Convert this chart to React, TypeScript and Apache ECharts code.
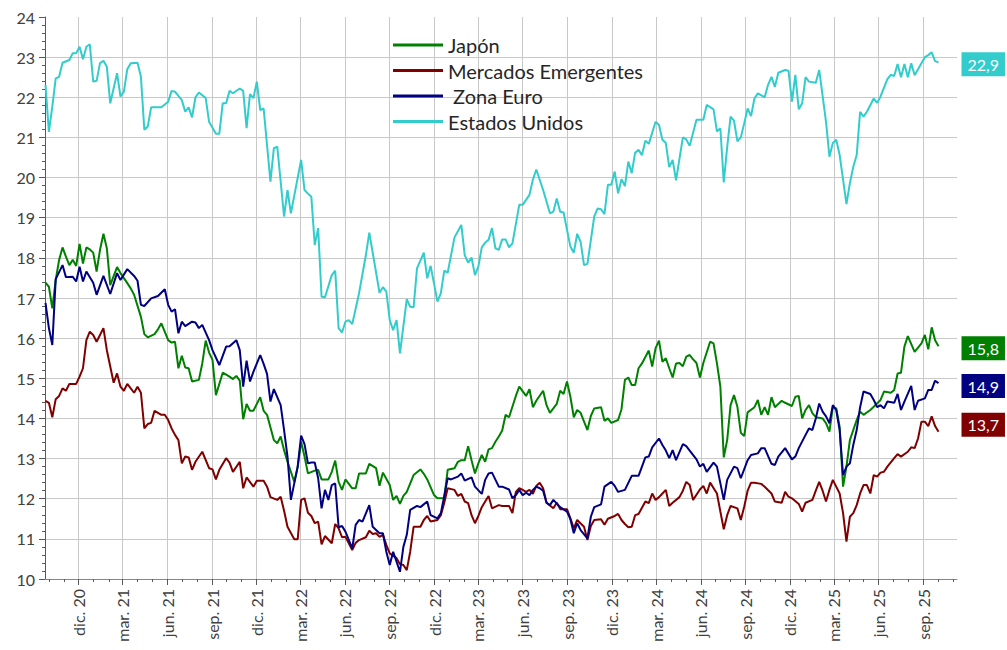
import React, { useEffect, useRef } from 'react';
import * as echarts from 'echarts';

// ---------- data ----------
const seriesNames = ['Japón', 'Mercados Emergentes', ' Zona Euro', 'Estados Unidos'];
const seriesColors = ['#008000', '#800000', '#000080', '#33CCCC'];

const firstWeekDate = '2020-09-24'; // week 0 of the weekly series
const axisMinDate = '2020-09-23';
const axisMaxDate = '2025-11-09';

const tickDates = [
  '2020-12-01', '2021-03-01', '2021-06-01', '2021-09-01', '2021-12-01',
  '2022-03-01', '2022-06-01', '2022-09-01', '2022-12-01', '2023-03-01',
  '2023-06-01', '2023-09-01', '2023-12-01', '2024-03-01', '2024-06-01',
  '2024-09-01', '2024-12-01', '2025-03-01', '2025-06-01', '2025-09-01',
];
const tickLabels = [
  'dic. 20', 'mar. 21', 'jun. 21', 'sep. 21', 'dic. 21',
  'mar. 22', 'jun. 22', 'sep. 22', 'dic. 22', 'mar. 23',
  'jun. 23', 'sep. 23', 'dic. 23', 'mar. 24', 'jun. 24',
  'sep. 24', 'dic. 24', 'mar. 25', 'jun. 25', 'sep. 25',
];

// [week number since firstWeekDate, value]
const jpData = [
  [0,17.38],[1,17.28],[2,16.74],[3,17.45],[4,17.95],[5,18.26],[6,18.03],[7,17.82],[8,17.95],[9,17.8],[10,18.35],[11,17.86],[12,18.26],[13,18.21],[14,18.13],[15,17.66],[16,18.2],[17,18.6],[18,18.24],[19,17.32],[21,17.77],[22,17.62],[24,17.37],[25,17.24],[26,17.08],[28,16.53],[29,16.1],[30,16.02],[32,16.1],[33,16.22],[34,16.37],[36,15.95],[37,15.89],[38,15.91],[39,15.25],[40,15.56],[41,15.27],[42,15.25],[43,14.92],[45,14.96],[46,15.37],[47,15.94],[48,15.64],[49,15.46],[50,14.58],[52,15.14],[54,15.04],[55,14.98],[56,15.06],[57,14.94],[58,13.98],[59,14.36],[60,14.19],[61,14.19],[63,14.53],[64,14.19],[65,14.09],[67,13.46],[68,13.38],[69,13.55],[70,13.21],[71,12.92],[73,12.42],[74,12.8],[75,13.42],[76,13.05],[77,12.63],[79,12.7],[80,12.72],[81,12.48],[83,12.48],[84,12.67],[85,12.95],[86,12.42],[87,12.22],[88,12.48],[90,12.26],[91,12.26],[92,12.63],[94,12.63],[95,12.87],[97,12.76],[98,12.32],[99,12.65],[101,12.34],[102,11.97],[103,12.07],[104,11.87],[105,12.07],[106,12.17],[108,12.59],[110,12.73],[111,12.62],[112,12.48],[114,12.09],[115,12.01],[117,12.02],[118,12.72],[120,12.76],[121,12.92],[122,12.96],[123,12.96],[124,13.31],[125,12.96],[126,12.63],[127,12.88],[128,13.09],[129,12.92],[130,13.23],[131,13.26],[132,13.42],[133,13.55],[134,13.7],[135,14.09],[136,14.03],[138,14.56],[139,14.79],[141,14.56],[142,14.73],[143,14.28],[144,14.44],[146,14.69],[147,14.33],[148,14.14],[150,14.36],[151,14.69],[152,14.61],[153,14.92],[154,14.54],[155,14.03],[156,14.21],[157,14.14],[159,13.71],[160,14.06],[161,14.25],[163,14.28],[164,13.94],[165,14.0],[166,13.89],[168,13.96],[169,14.23],[170,14.96],[171,15.02],[172,14.83],[173,14.83],[174,15.25],[175,15.37],[177,15.69],[178,15.29],[179,15.75],[180,15.94],[181,15.41],[182,15.5],[183,15.25],[184,15.02],[185,15.37],[186,15.38],[187,15.3],[188,15.54],[189,15.58],[190,15.47],[191,15.38],[192,15.02],[193,15.38],[195,15.91],[196,15.87],[197,15.37],[198,14.79],[199,13.03],[200,13.46],[201,14.33],[202,14.58],[203,14.29],[204,13.64],[205,13.56],[206,14.15],[208,14.28],[209,14.46],[210,14.09],[211,14.28],[212,14.09],[213,14.53],[214,14.28],[216,14.44],[217,14.39],[219,14.31],[220,14.54],[221,14.56],[222,14.0],[223,14.21],[224,14.33],[225,14.13],[226,14.03],[228,14.0],[229,13.88],[230,13.67],[231,14.28],[232,14.25],[233,13.79],[234,12.3],[235,12.8],[236,13.46],[238,13.96],[239,14.17],[240,14.09],[242,14.21],[243,14.29],[245,14.46],[246,14.67],[248,14.64],[249,14.71],[250,15.12],[251,15.14],[252,15.79],[253,16.05],[255,15.66],[257,15.87],[258,16.08],[259,15.72],[260,16.27],[261,15.95],[262,15.8],
];

const emData = [
  [0,14.44],[1,14.39],[2,14.03],[3,14.48],[4,14.56],[5,14.75],[6,14.69],[7,14.86],[9,14.86],[10,15.04],[11,15.25],[12,15.95],[13,16.16],[14,16.08],[15,15.91],[17,16.25],[18,15.7],[20,14.89],[21,15.12],[22,14.79],[23,14.69],[24,14.86],[26,14.64],[27,14.79],[28,14.64],[29,13.75],[30,13.86],[31,13.89],[32,14.19],[34,14.09],[35,14.09],[36,13.96],[37,13.75],[38,13.59],[39,13.46],[40,12.88],[41,13.05],[42,13.03],[43,12.72],[44,12.92],[46,13.17],[48,12.76],[49,12.73],[50,12.48],[51,12.72],[53,13.01],[54,12.9],[55,12.67],[57,12.92],[58,12.26],[59,12.53],[61,12.3],[62,12.45],[64,12.45],[65,12.3],[66,12.04],[68,11.97],[69,12.05],[70,11.7],[71,11.3],[73,10.99],[74,10.99],[75,11.97],[76,12.01],[77,11.65],[78,11.57],[79,11.39],[80,11.43],[81,10.86],[82,11.07],[84,10.89],[85,11.37],[86,11.26],[87,11.04],[88,11.05],[90,10.72],[91,10.9],[92,10.97],[94,11.04],[95,11.2],[96,11.12],[97,11.14],[98,11.05],[99,11.1],[100,10.85],[101,10.64],[103,10.52],[104,10.37],[105,10.35],[106,10.22],[107,10.68],[108,11.3],[110,11.3],[111,11.47],[112,11.57],[113,11.43],[115,11.47],[116,11.59],[117,11.9],[118,12.26],[120,12.22],[121,12.07],[122,12.12],[123,11.93],[124,11.89],[125,11.59],[126,11.39],[127,11.57],[128,11.79],[129,11.93],[130,12.07],[131,11.76],[133,11.84],[134,11.82],[136,11.82],[137,11.64],[138,12.17],[139,12.26],[140,12.22],[141,12.17],[142,12.22],[143,12.12],[144,12.32],[145,12.4],[146,12.26],[147,11.9],[149,11.76],[150,11.9],[151,11.74],[153,11.74],[154,11.51],[155,11.26],[156,11.47],[158,11.3],[159,10.97],[160,11.32],[161,11.47],[163,11.49],[164,11.35],[165,11.5],[167,11.57],[168,11.62],[169,11.47],[170,11.37],[171,11.29],[172,11.3],[173,11.59],[174,11.62],[176,11.93],[177,11.89],[178,12.13],[179,11.97],[180,12.04],[181,12.13],[182,12.22],[183,11.82],[184,11.9],[186,12.04],[187,12.2],[188,12.42],[189,12.34],[190,11.97],[192,12.23],[193,12.32],[194,12.13],[195,12.4],[197,12.13],[198,11.68],[199,11.24],[200,11.59],[201,11.82],[203,11.76],[204,11.47],[205,11.8],[206,12.2],[207,12.4],[208,12.4],[210,12.37],[211,12.3],[213,12.13],[214,11.93],[216,11.9],[217,12.17],[218,12.05],[219,12.01],[221,11.87],[222,11.68],[223,11.9],[225,11.97],[226,12.2],[227,12.42],[228,12.2],[229,11.93],[230,12.22],[231,12.47],[233,12.13],[234,11.64],[235,10.93],[236,11.55],[237,11.64],[238,11.84],[239,12.13],[240,12.34],[241,12.34],[242,12.13],[243,12.59],[244,12.55],[245,12.65],[246,12.67],[247,12.8],[249,13.01],[250,13.11],[251,13.05],[253,13.17],[254,13.28],[255,13.26],[256,13.5],[257,13.92],[258,13.92],[259,13.81],[260,14.05],[261,13.81],[262,13.67],
];

const euData = [
  [0,16.88],[1,16.25],[2,15.83],[3,17.47],[5,17.82],[6,17.52],[8,17.53],[9,17.41],[10,17.78],[11,17.41],[12,17.66],[14,17.38],[15,17.08],[17,17.55],[19,17.1],[21,17.62],[22,17.45],[24,17.72],[26,17.55],[27,17.43],[28,16.83],[29,16.8],[31,16.99],[33,17.05],[35,17.22],[36,16.83],[37,16.66],[38,16.72],[39,16.12],[40,16.41],[41,16.3],[43,16.41],[44,16.39],[45,16.25],[46,16.33],[48,15.95],[49,15.7],[51,15.33],[53,15.79],[54,15.8],[56,15.95],[57,15.7],[58,14.79],[59,15.44],[60,14.92],[61,15.16],[63,15.58],[64,15.36],[65,15.11],[66,14.42],[67,14.73],[69,14.33],[70,13.71],[71,13.05],[72,11.97],[74,12.8],[75,13.57],[76,13.36],[77,12.88],[78,12.9],[79,12.9],[80,12.51],[81,11.76],[82,12.22],[83,11.97],[84,12.34],[85,12.38],[86,11.29],[87,11.32],[88,11.18],[90,10.76],[91,11.35],[92,11.47],[93,11.43],[95,11.84],[96,11.3],[98,11.14],[99,11.14],[100,10.68],[101,10.35],[102,10.68],[104,10.18],[105,10.8],[106,11.1],[107,11.72],[109,11.82],[110,11.79],[112,11.93],[113,11.59],[115,11.51],[116,11.64],[118,12.51],[119,12.48],[121,12.55],[122,12.63],[123,12.45],[125,12.53],[126,12.3],[128,12.12],[129,12.47],[130,12.63],[131,12.65],[133,12.3],[134,12.3],[136,12.23],[137,12.01],[138,12.09],[139,12.22],[140,12.09],[141,12.15],[142,12.09],[143,12.22],[144,12.3],[145,12.26],[146,12.2],[147,11.9],[148,11.84],[149,11.97],[151,11.79],[153,11.68],[154,11.49],[155,11.14],[156,11.39],[157,11.22],[159,11.01],[160,11.55],[161,11.79],[163,11.86],[164,12.3],[166,12.42],[167,12.32],[168,12.17],[170,12.22],[172,12.57],[174,12.57],[176,13.03],[177,13.05],[178,13.28],[180,13.5],[181,13.34],[182,13.2],[183,13.01],[184,13.21],[185,12.96],[187,13.36],[188,13.31],[189,13.2],[191,12.98],[192,12.8],[193,12.87],[194,12.67],[196,12.9],[197,12.8],[199,11.97],[200,12.47],[202,12.8],[203,12.76],[204,12.51],[206,12.96],[207,13.09],[209,13.13],[210,13.26],[211,13.26],[213,12.87],[214,12.84],[215,13.05],[217,13.26],[219,12.98],[220,13.05],[221,13.26],[223,13.59],[224,13.75],[225,13.71],[226,14.0],[227,14.37],[228,14.17],[229,14.05],[230,13.88],[231,14.33],[232,14.21],[233,13.71],[234,12.59],[235,12.8],[236,12.88],[237,13.34],[238,13.71],[239,14.28],[240,14.67],[242,14.61],[243,14.46],[244,14.28],[245,14.33],[246,14.25],[247,14.42],[249,14.39],[250,14.61],[251,14.21],[252,14.42],[254,14.81],[255,14.21],[256,14.44],[258,14.5],[259,14.71],[260,14.71],[261,14.94],[262,14.88],
];

const usData = [
  [0,22.31],[1,21.14],[2,21.77],[3,22.47],[4,22.51],[5,22.86],[7,22.93],[8,23.1],[9,23.1],[10,23.26],[11,22.95],[12,23.26],[13,23.32],[14,22.39],[15,22.41],[16,22.85],[17,22.91],[18,22.76],[19,21.85],[21,22.6],[22,22.02],[23,22.14],[24,22.7],[25,22.85],[27,22.86],[28,22.51],[29,21.19],[30,21.27],[31,21.75],[34,21.75],[36,21.89],[37,22.16],[38,22.14],[40,21.93],[41,21.64],[42,21.75],[43,21.5],[44,22.0],[45,22.12],[47,21.98],[48,21.39],[50,21.09],[51,21.09],[52,21.85],[53,21.85],[54,22.16],[55,22.1],[57,22.22],[58,22.16],[59,21.23],[60,22.08],[61,21.98],[62,22.39],[63,21.68],[64,21.72],[66,19.9],[67,20.73],[68,20.77],[70,19.03],[71,19.69],[72,19.11],[75,20.44],[76,19.69],[77,19.6],[78,19.52],[79,18.32],[80,18.74],[81,17.03],[82,17.02],[84,17.57],[85,17.68],[86,16.25],[87,16.14],[88,16.41],[89,16.45],[90,16.35],[92,17.12],[94,18.07],[95,18.63],[98,17.13],[99,17.27],[100,17.16],[101,16.45],[102,16.2],[103,16.45],[104,15.62],[106,16.97],[107,16.78],[108,16.77],[109,17.74],[111,18.13],[112,17.49],[113,17.8],[115,16.91],[116,17.12],[117,17.68],[118,17.63],[120,18.51],[122,18.82],[123,18.07],[124,17.88],[125,18.01],[126,17.57],[127,17.78],[128,18.26],[129,18.38],[130,18.45],[131,18.74],[132,18.24],[133,18.2],[134,18.46],[135,18.46],[136,18.26],[137,18.36],[139,19.32],[140,19.32],[142,19.57],[143,19.95],[144,20.2],[146,19.69],[148,19.11],[149,19.15],[150,19.48],[151,19.15],[152,19.13],[154,18.28],[155,18.13],[156,18.6],[157,18.4],[158,17.82],[159,17.85],[161,19.03],[162,19.23],[163,19.21],[164,19.09],[165,19.82],[166,19.82],[167,20.15],[168,19.61],[169,19.96],[170,19.79],[171,20.4],[172,20.11],[173,20.62],[174,20.69],[175,20.56],[176,20.92],[177,20.84],[179,21.39],[180,21.31],[181,20.94],[182,20.86],[183,20.26],[184,20.44],[185,19.93],[187,21.0],[188,20.95],[189,20.79],[191,21.44],[193,21.44],[194,21.81],[196,21.7],[197,21.15],[198,21.23],[199,19.88],[200,20.76],[201,21.52],[202,21.42],[203,20.9],[204,21.0],[205,21.35],[206,21.72],[207,21.53],[208,21.97],[209,22.1],[211,22.0],[212,22.31],[213,22.51],[214,22.26],[215,22.61],[217,22.68],[218,22.66],[219,21.89],[220,22.56],[221,21.7],[222,21.85],[223,22.5],[224,22.39],[226,22.36],[227,22.68],[229,21.39],[230,20.52],[231,20.86],[232,20.94],[233,20.56],[235,19.34],[236,19.86],[237,20.27],[238,20.56],[239,21.64],[240,21.52],[241,21.64],[243,21.97],[244,21.86],[245,22.02],[247,22.45],[248,22.56],[249,22.53],[250,22.83],[251,22.5],[252,22.83],[253,22.5],[254,22.85],[255,22.55],[256,22.7],[257,22.85],[258,23.0],[259,23.05],[260,23.12],[261,22.9],[262,22.87],
];

const seriesData = [jpData, emData, euData, usData];

// ---------- helpers ----------
const DAY = 86400000;
const parseDate = (s: string) => {
  const [y, m, d] = s.split('-').map(Number);
  return Date.UTC(y, m - 1, d);
};

export default function App() {
  const ref = useRef<HTMLDivElement>(null);

  useEffect(() => {
    if (!ref.current) return;
    const chart = echarts.init(ref.current, null, { renderer: 'svg' });

    const start = parseDate(firstWeekDate);
    const tickVals = tickDates.map(parseDate);
    const minT = parseDate(axisMinDate);
    const maxT = parseDate(axisMaxDate);

    const monthTicks: number[] = [];
    {
      const a = new Date(minT);
      let y = a.getUTCFullYear();
      let m = a.getUTCMonth() + 1;
      while (true) {
        if (m > 11) { m = 0; y++; }
        const t = Date.UTC(y, m, 1);
        if (t > maxT) break;
        monthTicks.push(t);
        m++;
      }
    }

    const labelFor = (v: number) => {
      let best = 0;
      let bd = Infinity;
      tickVals.forEach((t, i) => {
        const d = Math.abs(t - v);
        if (d < bd) { bd = d; best = i; }
      });
      return bd < 5 * DAY ? tickLabels[best] : '';
    };

    const labelOffsets = [[0, 2], [0, -7], [0, 3], [0, 2]];

    const series = seriesNames.map((name, i) => ({
      name,
      type: 'line',
      xAxisIndex: 0,
      yAxisIndex: 0,
      data: seriesData[i].map(([w, v]) => [start + w * 7 * DAY, v]),
      showSymbol: false,
      symbol: 'none',
      lineStyle: { width: 2, color: seriesColors[i] },
      itemStyle: { color: seriesColors[i] },
      emphasis: { disabled: true },
      z: i === 3 ? 2 : 3,
      endLabel: {
        show: true,
        formatter: (p: any) => Number(p.value[1]).toFixed(1).replace('.', ','),
        backgroundColor: seriesColors[i],
        color: '#ffffff',
        fontSize: 16,
        fontFamily: 'Lato',
        lineHeight: 16,
        padding: [4, 6, 4, 6],
        distance: 23,
        offset: labelOffsets[i],
      },
    }));

    chart.setOption({
      animation: false,
      backgroundColor: '#ffffff',
      textStyle: { fontFamily: 'Lato' },
      grid: { left: 45, right: 50, top: 17, bottom: 71, containLabel: false },
      legend: {
        show: true,
        orient: 'vertical',
        left: 393,
        top: 35,
        padding: 0,
        itemWidth: 50,
        itemHeight: 3,
        itemGap: 5.5,
        icon: 'rect',
        selectedMode: false,
        data: seriesNames,
        textStyle: { fontSize: 20, lineHeight: 20, color: '#262626', fontFamily: 'Lato' },
      },
      xAxis: [
        {
          type: 'value',
          min: minT,
          max: maxT,
          position: 'bottom',
          axisLine: { show: true, onZero: false, lineStyle: { color: '#868686', width: 1 } },
          axisTick: { show: true, customValues: tickVals, length: 6, lineStyle: { color: '#595959' } },
          axisLabel: {
            show: true,
            customValues: tickVals,
            rotate: 90,
            margin: 10,
            fontSize: 16,
            color: '#404040',
            hideOverlap: false,
            showMinLabel: true,
            showMaxLabel: true,
            formatter: (v: number) => labelFor(v),
          },
          splitLine: { show: true, lineStyle: { color: '#C8C8C8', width: 1 } },
        },
        {
          type: 'value',
          min: minT,
          max: maxT,
          position: 'bottom',
          axisLine: { show: false, onZero: false },
          axisTick: { show: true, customValues: monthTicks, length: 3, lineStyle: { color: '#595959' } },
          axisLabel: { show: false },
          splitLine: { show: false },
        },
      ],
      yAxis: {
        type: 'value',
        min: 10,
        max: 24,
        interval: 1,
        axisLine: { show: true, lineStyle: { color: '#595959', width: 1 } },
        axisTick: { show: true, length: 6, lineStyle: { color: '#595959' } },
        minorTick: { show: true, splitNumber: 5, length: 3, lineStyle: { color: '#595959' } },
        axisLabel: { fontSize: 16, color: '#404040', margin: 10 },
        splitLine: { show: true, showMaxLine: false, lineStyle: { color: '#C8C8C8', width: 1 } },
      },
      series,
    });

    return () => chart.dispose();
  }, []);

  return (
    <div
      ref={ref}
      style={{ position: 'absolute', left: 0, top: 0, width: 1007, height: 650 }}
    />
  );
}
